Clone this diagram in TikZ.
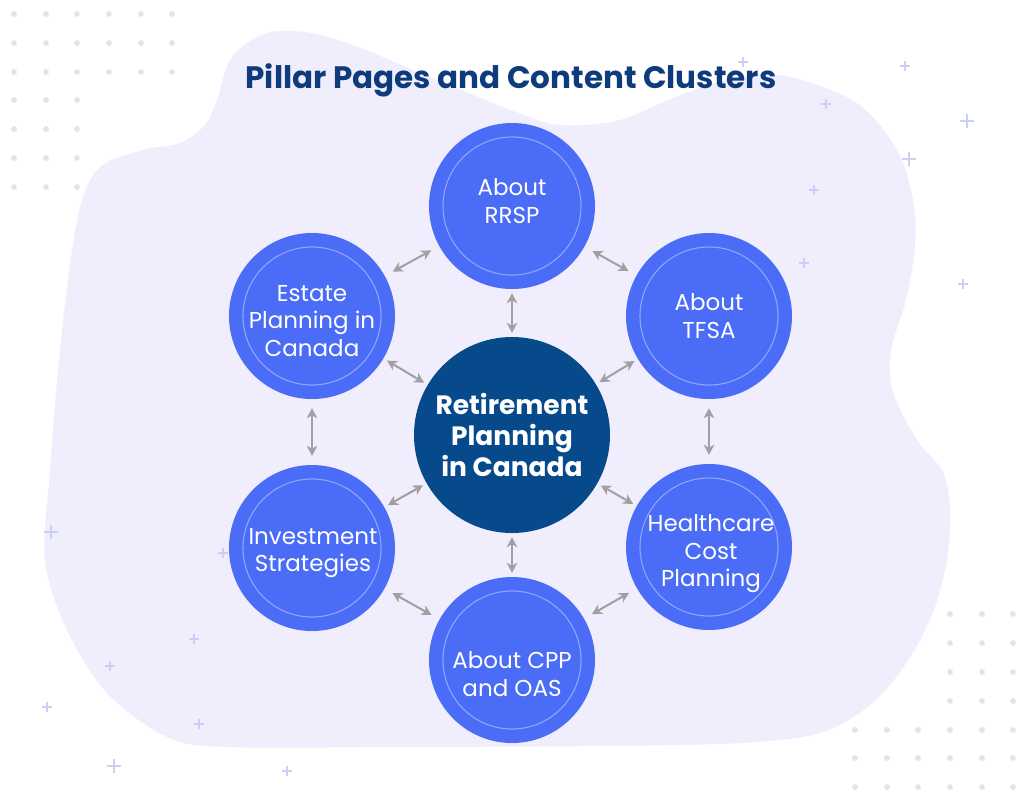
\documentclass[tikz,border=0pt]{standalone}
\usepackage{fontspec}
\setmainfont{Poppins}
\usetikzlibrary{arrows.meta}
\definecolor{blobc}{HTML}{F0EEFD}
\definecolor{outerc}{HTML}{4A6CF7}
\definecolor{innerc}{HTML}{8EA6FF}
\definecolor{centerc}{HTML}{064A8C}
\definecolor{titlec}{HTML}{0D3B7B}
\definecolor{arrc}{HTML}{A0A0A0}
\definecolor{dotc}{HTML}{E4E4E4}
\definecolor{plusc}{HTML}{C9D0F6}
\begin{document}
\begin{tikzpicture}[x=1pt,y=-1pt,
  outer/.style={circle, fill=outerc, minimum size=166pt, inner sep=0pt},
  lbl/.style={text=white, align=center, inner sep=0pt, font=\fontsize{23}{27.5}\selectfont},
  hub/.style={circle, fill=centerc, minimum size=196pt, inner sep=0pt, text=white, align=center, font=\fontsize{26.5}{31}\selectfont\bfseries},
  ring/.style={draw=innerc, line width=1.1pt},
  tip/.tip={Stealth[length=10pt,width=10.5pt,inset=3pt]},
  arrbase/.style={draw=arrc, line width=2pt, {tip}-{tip}},
  arrin/.style={arrbase, shorten <=4pt, shorten >=4pt},
  arrout/.style={arrbase, shorten <=9pt, shorten >=9pt},
  plusmk/.style={draw=plusc, line width=1.7pt},
  dotmk/.style={fill=dotc}
]
\useasboundingbox (0,0) rectangle (1024,796);
\fill[white] (0,0) rectangle (1024,796);

% background blob
\fill[blobc] plot[smooth cycle, tension=0.55] coordinates {
 (267,33) (311,33) (358,47) (437,80) (516,112) (560,125) (620,120) (680,95)
 (740,77) (790,77) (857,103) (897,150) (913,200) (915,245) (906,300) (891,350)
 (893,392) (917,440) (943,472) (950,510) (947,560) (932,615) (905,665) (870,705)
 (820,733) (742,743) (600,746) (400,747) (227,747) (167,737) (107,693) (67,630)
 (45,560) (50,470) (58,370) (68,280) (80,207) (100,167) (143,150) (180,143)
 (205,125) (217,100) (232,57)};

% dot grids
\foreach \y in {14,43,72} {\foreach \x in {14,46,77,109,141,172} {\fill[dotmk] (\x,\y) circle (2.9pt);}}
\foreach \y in {100,129,158,187} {\foreach \x in {14,46,77} {\fill[dotmk] (\x,\y) circle (2.9pt);}}
\foreach \y in {614,643,672,701} {\foreach \x in {950,982,1013} {\fill[dotmk] (\x,\y) circle (2.9pt);}}
\foreach \y in {730,758,787} {\foreach \x in {855,887,918,950,982,1013} {\fill[dotmk] (\x,\y) circle (2.9pt);}}

% plus marks
\foreach \x/\y/\s in {967/121/7, 909/159/7, 51/532/7, 114/766/7,
  743/62/5, 905/66/5, 826/104/5, 814/190/5, 804/263/5, 963/284/5,
  223/553/5, 194/639/5, 110/666/5, 47/707/5, 199/724/5, 287/771/5}
  {\draw[plusmk] (\x-\s,\y) -- (\x+\s,\y) (\x,\y-\s) -- (\x,\y+\s);}

% title
\node[anchor=base, text=titlec, font=\fontsize{31}{36}\selectfont\bfseries] (title) at (511,88) {Pillar Pages and Content Clusters};

% circles
\node[hub] (hub) at (512,435) {Retirement\\Planning\\in Canada};
\node[outer] (rrsp) at (512,206) {};
\node[outer] (tfsa) at (709,316) {};
\node[outer] (estate) at (312,316) {};
\node[outer] (invest) at (312,548) {};
\node[outer] (health) at (709,547) {};
\node[outer] (cpp) at (512,660) {};

\foreach \n in {rrsp,tfsa,estate,invest,health,cpp} {\draw[ring] (\n.center) circle (69pt);}

% labels
\node[lbl] (rrspT) at (512,201) {About\\RRSP};
\node[lbl] (tfsaT) at (709,316) {About\\TFSA};
\node[lbl] (estateT) at (312,321) {Estate\\Planning in\\Canada};
\node[lbl] (investT) at (313,553) {Investment\\Strategies};
\node[lbl] (healthT) at (711,554) {Healthcare\\Cost\\Planning};
\node[lbl] (cppT) at (512,674) {About CPP\\and OAS};

% connectors
\foreach \n in {rrsp,tfsa,estate,invest,health,cpp} {\draw[arrin] (hub) -- (\n);}
\draw[arrout] (rrsp) -- (estate);
\draw[arrout] (rrsp) -- (tfsa);
\draw[arrout] (estate) -- (invest);
\draw[arrout] (tfsa) -- (health);
\draw[arrout] (invest) -- (cpp);
\draw[arrout] (health) -- (cpp);
\end{tikzpicture}
\end{document}
